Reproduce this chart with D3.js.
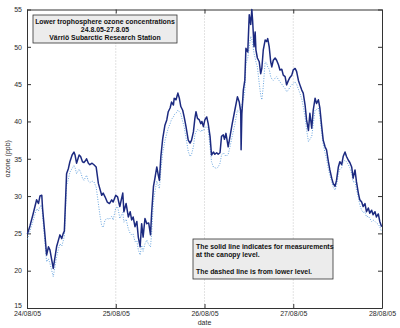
<!DOCTYPE html>
<html>
<head>
<meta charset="utf-8">
<script src="https://cdn.jsdelivr.net/npm/d3@7"></script>
<style>
  html, body { margin: 0; padding: 0; background: #fff; }
  svg { display: block; font-family: "Liberation Sans", Arial, sans-serif; }
</style>
</head>
<body>
<svg id="chart" width="400" height="328"></svg>
<script>
// Hours since 24/08/05 00:00 for each sample
const hours = [
  0.1, 0.8, 1.6, 2.6, 3.1, 3.5, 4.0, 4.2, 4.9, 5.3, 5.8, 6.2, 6.7, 7.1, 7.6, 8.0, 8.5, 8.9, 9.4, 9.8,
  10.1, 10.7, 11.2, 11.6, 12.2, 12.7, 13.0, 13.4, 14.1, 14.5, 15.0, 15.4, 15.9, 16.1, 16.6, 17.0, 17.6, 18.1, 18.7, 19.3,
  19.7, 20.2, 20.6, 21.1, 21.7, 22.3, 22.9, 23.3, 24.0, 24.5, 24.9, 25.1, 25.9, 26.2, 26.8, 27.4, 27.9, 28.3, 28.7, 29.2,
  29.7, 30.1, 30.6, 31.0, 31.4, 31.9, 32.4, 32.9, 33.4, 33.7, 34.2, 34.6, 35.1, 35.5, 35.8, 36.2, 36.7, 37.3, 37.8, 38.2,
  38.7, 39.1, 39.6, 39.8, 40.3, 40.8, 41.2, 41.6, 42.1, 42.5, 43.0, 43.6, 44.1, 44.5, 45.0, 45.4, 45.7, 46.1, 46.6, 47.0,
  47.3, 47.7, 48.1, 48.6, 49.0, 49.5, 49.9, 50.4, 50.8, 51.3, 51.7, 52.2, 52.6, 53.1, 53.4, 53.8, 54.4, 54.9, 55.5, 56.2,
  56.9, 57.4, 57.8, 57.9, 58.1, 58.5, 58.9, 59.2, 59.7, 60.1, 60.5, 60.8, 61.0, 61.4, 61.7, 61.9, 62.3, 62.8, 63.2, 63.5,
  63.9, 64.4, 64.8, 65.1, 65.5, 65.9, 66.2, 66.6, 67.1, 67.5, 68.0, 68.4, 68.9, 69.3, 69.8, 70.2, 70.7, 71.1, 71.6, 72.0,
  72.5, 72.9, 73.4, 73.8, 74.3, 74.7, 75.2, 75.6, 76.1, 76.5, 77.0, 77.4, 77.9, 78.3, 78.8, 79.2, 79.7, 80.1, 80.6, 81.0,
  81.5, 81.9, 82.4, 82.8, 83.3, 83.7, 84.2, 84.6, 85.1, 85.5, 86.0, 86.4, 86.9, 87.3, 87.8, 88.2, 88.7, 89.1, 89.6, 90.0,
  90.5, 90.9, 91.4, 91.8, 92.3, 92.7, 93.2, 93.6, 94.1, 94.5, 95.0, 95.4, 95.9
];

// Ozone at the canopy level (ppb) - solid line
const canopy = [
  24.9, 26.0, 27.5, 29.5, 29.0, 30.0, 30.1, 28.4, 24.5, 22.1, 23.2, 22.8, 21.4, 20.3, 21.9, 23.2, 24.1, 24.8, 24.3, 25.0,
  25.3, 33.0, 33.7, 34.6, 35.5, 35.9, 35.5, 34.4, 35.5, 35.3, 34.6, 34.5, 34.8, 35.0, 34.4, 34.2, 34.4, 34.2, 33.9, 31.7,
  31.0, 30.1, 30.4, 29.9, 29.2, 29.0, 29.5, 29.2, 30.1, 29.9, 29.0, 28.6, 30.4, 27.9, 29.0, 27.2, 27.9, 26.8, 27.2, 25.9,
  26.6, 24.5, 23.2, 26.3, 24.5, 27.0, 26.3, 26.4, 24.8, 27.7, 31.3, 32.4, 33.9, 32.8, 32.1, 35.3, 37.7, 39.5, 40.2, 41.3,
  41.8, 42.6, 42.2, 43.1, 42.9, 43.8, 43.1, 42.0, 41.5, 40.6, 39.3, 37.5, 37.1, 37.5, 38.6, 40.4, 41.3, 40.4, 40.2, 39.7,
  40.0, 39.3, 40.2, 40.6, 39.7, 38.0, 35.5, 35.9, 35.6, 35.8, 35.6, 35.8, 38.0, 38.2, 37.6, 38.4, 36.6, 38.0, 39.7, 41.5,
  43.3, 42.6, 41.3, 36.2, 41.0, 44.2, 45.5, 49.8, 49.3, 54.3, 53.0, 55.0, 53.6, 50.0, 52.0, 49.6, 48.5, 48.0, 46.4, 47.1,
  49.6, 50.9, 50.7, 51.1, 50.0, 48.0, 47.3, 48.2, 48.5, 48.2, 47.6, 46.9, 47.0, 46.2, 46.0, 44.9, 45.5, 45.9, 46.2, 46.9,
  47.1, 46.7, 45.5, 44.9, 44.2, 43.8, 42.2, 40.2, 38.8, 41.1, 39.1, 41.5, 43.1, 42.4, 42.9, 41.8, 39.3, 37.5, 36.6, 36.2,
  34.6, 33.5, 32.4, 31.7, 31.3, 32.1, 33.9, 34.6, 34.2, 35.3, 35.9, 35.3, 34.8, 34.5, 33.9, 32.4, 33.5, 31.9, 30.4, 29.5,
  29.2, 28.6, 29.0, 27.9, 28.4, 27.7, 28.1, 27.5, 27.9, 27.2, 27.6, 26.6, 25.9
];

// Ozone at the lower level (ppb) - dashed line
const lower = [
  24.2, 25.3, 26.6, 28.3, 28.0, 28.6, 28.8, 27.5, 23.5, 21.2, 21.6, 21.0, 20.0, 19.2, 20.6, 21.8, 22.9, 23.6, 23.3, 24.0,
  24.6, 31.4, 32.3, 33.2, 33.7, 34.1, 33.8, 33.0, 33.6, 33.2, 32.4, 32.1, 32.6, 32.8, 32.0, 31.8, 32.0, 31.9, 31.2, 29.0,
  27.5, 26.0, 25.8, 26.8, 27.0, 26.9, 27.3, 26.8, 28.4, 28.6, 27.6, 27.0, 27.8, 26.5, 26.9, 25.6, 25.0, 24.8, 24.9, 23.9,
  24.0, 22.8, 22.1, 23.4, 22.6, 23.6, 24.1, 23.5, 23.2, 25.0, 29.3, 30.6, 32.0, 31.4, 31.0, 33.4, 35.8, 37.4, 38.4, 39.1,
  39.7, 40.3, 40.6, 40.9, 41.1, 41.5, 41.3, 41.0, 40.0, 39.3, 37.8, 36.0, 35.3, 35.6, 36.6, 38.2, 38.6, 38.9, 38.8, 38.6,
  38.9, 38.7, 39.2, 39.3, 38.9, 36.6, 34.6, 33.9, 33.8, 33.7, 33.9, 34.4, 35.5, 35.8, 35.6, 35.3, 35.6, 36.6, 38.0, 39.6,
  41.5, 41.3, 41.1, 41.8, 42.2, 42.9, 44.0, 47.8, 48.5, 50.0, 51.4, 51.0, 50.4, 49.1, 48.5, 48.0, 47.3, 45.1, 43.5, 42.9,
  44.7, 48.0, 47.8, 47.3, 47.0, 46.0, 45.7, 45.5, 45.8, 46.0, 45.6, 45.3, 45.0, 44.7, 44.4, 44.0, 44.2, 44.6, 44.9, 45.1,
  45.3, 45.0, 44.3, 43.8, 43.0, 42.0, 40.6, 38.9, 37.3, 37.6, 38.0, 39.6, 41.5, 41.6, 41.8, 40.7, 38.4, 36.9, 35.8, 35.0,
  33.6, 32.8, 31.9, 31.2, 30.8, 31.4, 33.0, 33.6, 33.8, 34.6, 34.8, 34.6, 34.2, 33.8, 33.0, 31.9, 32.0, 30.8, 29.8, 28.8,
  28.1, 27.8, 27.9, 27.2, 27.3, 27.0, 26.6, 26.8, 26.6, 26.4, 26.2, 25.9, 25.2
];

const yTicks = [15, 20, 25, 30, 35, 40, 45, 50, 55];
const xTickDays = ["2005-08-24", "2005-08-25", "2005-08-26", "2005-08-27", "2005-08-28"];
const titleLines = ["Lower trophosphere ozone concentrations", "24.8.05-27.8.05", "Värriö Subarctic Research Station"];
const noteLines = ["The solid line indicates for measurements", "at the canopy level.", "", "The dashed line is from lower level."];

const start = Date.UTC(2005, 7, 24);
const times = hours.map(h => new Date(start + h * 3600e3));
const xTickDates = xTickDays.map(s => new Date(s + "T00:00:00Z"));

const svg = d3.select("#chart");
const L = 27, R = 382, T = 9.5, B = 308;

const x = d3.scaleUtc().domain([xTickDates[0], xTickDates[xTickDates.length - 1]]).range([L, R]);
const y = d3.scaleLinear().domain([15, 55]).range([B, T]);

// vertical dotted grid at the day marks
svg.append("g").selectAll("line")
  .data(xTickDates.slice(1, -1))
  .join("line")
  .attr("x1", d => x(d)).attr("x2", d => x(d))
  .attr("y1", T).attr("y2", B)
  .attr("stroke", "#b8b8b8").attr("stroke-width", 0.8)
  .attr("stroke-dasharray", "1,2");

const fmt = d3.utcFormat("%d/%m/%y");
const tickCol = "#2a2a2a";

// bottom axis
const gx = svg.append("g").attr("transform", `translate(0,${B})`)
  .call(d3.axisBottom(x).tickValues(xTickDates).tickFormat(fmt).tickSizeInner(-4).tickSizeOuter(0).tickPadding(3));
// top axis (ticks only)
const gxt = svg.append("g").attr("transform", `translate(0,${T})`)
  .call(d3.axisTop(x).tickValues(xTickDates).tickFormat("").tickSizeInner(-4).tickSizeOuter(0));
// left axis
const gy = svg.append("g").attr("transform", `translate(${L},0)`)
  .call(d3.axisLeft(y).tickValues(yTicks).tickFormat(d3.format("d")).tickSizeInner(-4).tickSizeOuter(0).tickPadding(5));
// right axis (ticks only)
const gyr = svg.append("g").attr("transform", `translate(${R},0)`)
  .call(d3.axisRight(y).tickValues(yTicks).tickFormat("").tickSizeInner(-4).tickSizeOuter(0));

[gx, gxt, gy, gyr].forEach(g => {
  g.select(".domain").attr("stroke", "#333").attr("stroke-width", 1);
  g.selectAll(".tick line").attr("stroke", "#333");
  g.selectAll("text").attr("fill", tickCol).style("font-size", "7px")
    .style("font-family", "'Liberation Sans', Arial, sans-serif");
});
// lift the lowest y label clear of the first date label
gy.selectAll(".tick text").filter(d => d === 15).attr("dy", "-0.05em");

// axis titles
svg.append("text").attr("x", (L + R) / 2).attr("y", 325)
  .attr("text-anchor", "middle").attr("fill", tickCol).style("font-size", "7px").text("date");
svg.append("text")
  .attr("transform", `translate(10,${(T + B) / 2}) rotate(-90)`)
  .attr("text-anchor", "middle").attr("fill", tickCol).style("font-size", "7px").text("ozone (ppb)");

// data lines
const pts = (vals) => vals.map((v, i) => [times[i], v]);
const line = d3.line().x(d => x(d[0])).y(d => y(d[1]));

svg.append("path").datum(pts(lower))
  .attr("d", line).attr("fill", "none")
  .attr("stroke", "#6aa6e0").attr("stroke-width", 1)
  .attr("stroke-dasharray", "1,1.5");

svg.append("path").datum(pts(canopy))
  .attr("d", line).attr("fill", "none")
  .attr("stroke", "#1c2a80").attr("stroke-width", 1.5)
  .attr("stroke-linejoin", "round");

// text boxes
function textBox(lines, x0, y0, w, h, anchor, lineH, firstY) {
  const g = svg.append("g");
  g.append("rect").attr("x", x0).attr("y", y0).attr("width", w).attr("height", h)
    .attr("fill", "#ececec").attr("stroke", "#333").attr("stroke-width", 0.8);
  const tx = anchor === "middle" ? x0 + w / 2 : x0 + 3;
  lines.forEach((s, i) => {
    if (!s) return;
    g.append("text").attr("x", tx).attr("y", firstY + i * lineH)
      .attr("text-anchor", anchor).attr("fill", "#111")
      .style("font-size", "6.9px").style("font-weight", "bold").text(s);
  });
}
textBox(titleLines, 33, 15, 144, 28, "middle", 8.2, 23.5);
textBox(noteLines, 193, 239, 140, 40, "start", 8.2, 249);
</script>
</body>
</html>
